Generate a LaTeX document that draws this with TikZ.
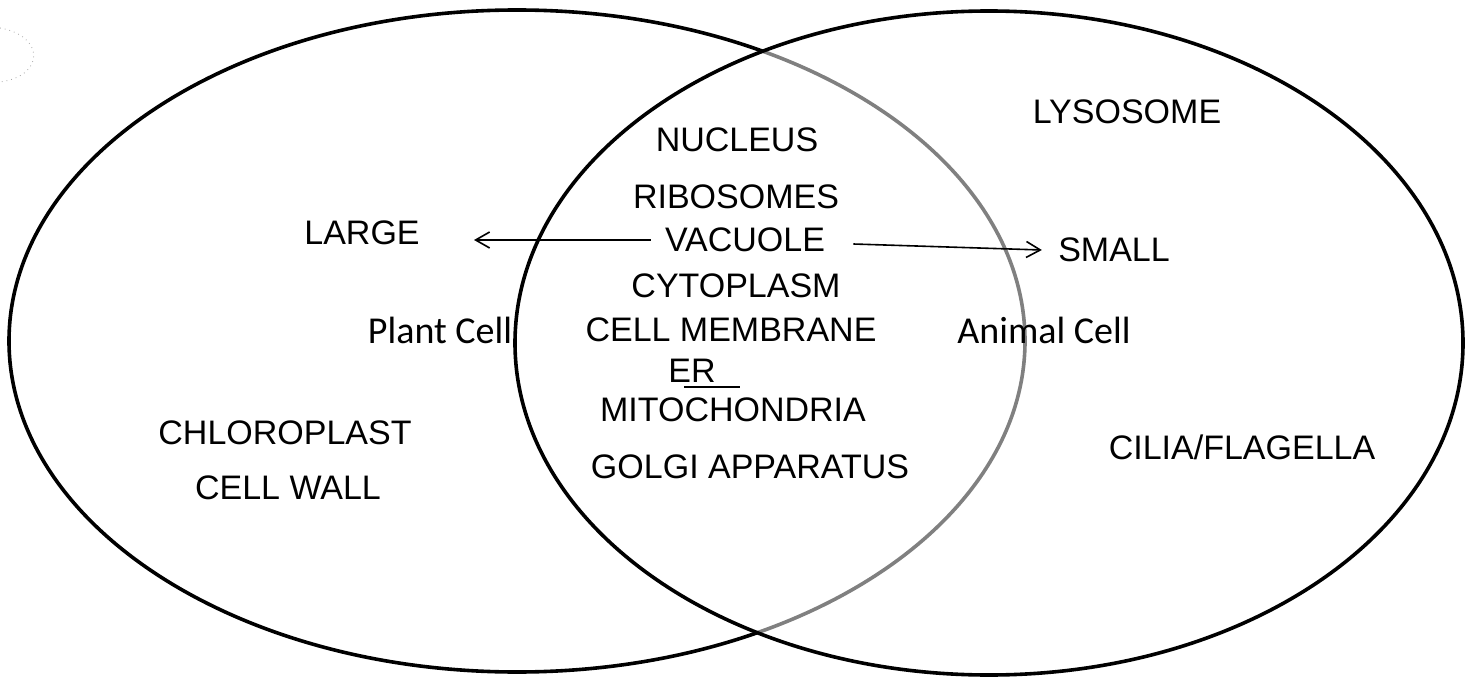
\documentclass[tikz,border=0pt]{standalone}
\usepackage{fontspec}
\newfontfamily\handfont{Liberation Sans}
\newfontfamily\typefont{Carlito}
\usetikzlibrary{arrows.meta,shapes.geometric,positioning}

\begin{document}
\begin{tikzpicture}[x=0.5pt,y=-0.5pt]
\tikzstyle{every node}=[inner sep=0pt]
\tikzstyle{hand}=[font=\handfont\fontsize{17}{20}\selectfont]
\tikzstyle{typed}=[font=\typefont\fontsize{19}{22}\selectfont]
\tikzstyle{cell}=[ellipse, draw, line width=1.8pt]
\tikzstyle{arr}=[-{Straight Barb[length=7pt,width=8pt]}, line width=0.8pt]

\useasboundingbox (0,0) rectangle (1471,679);

% scan mark, top left
\draw[dotted, gray!70, line width=0.4pt] (0,28) .. controls (45,36) and (45,76) .. (0,82);

% the two cells
\node[cell, minimum width=508pt, minimum height=331pt] at (517,341) (plant) {};
\node[cell, fill=white, fill opacity=0.5,
minimum width=474pt, minimum height=332pt] at (989,343) (animal) {};

\node[typed] at (440,330) (plantlbl) {Plant Cell};
\node[typed] at (1044,330) (animallbl) {Animal Cell};

% shared parts
\node[hand] at (737,140) (nucleus) {NUCLEUS};
\node[hand] at (736,197) (ribo) {RIBOSOMES};
\node[hand] at (745,240) (vac) {VACUOLE};
\node[hand] at (736,286) (cyto) {CYTOPLASM};
\node[hand] at (731,330) (membr) {CELL MEMBRANE};
\node[hand] at (692,371) (er) {ER};
\node[hand] at (733,410) (mito) {MITOCHONDRIA};
\node[hand] at (750,467) (golgi) {GOLGI APPARATUS};
\draw[line width=0.8pt] ([xshift=-4pt,yshift=-2pt]er.south) -- ([xshift=12pt,yshift=-2pt]er.south east);

% plant only
\node[hand] at (362,233) (large) {LARGE};
\node[hand] at (285,433) (chloro) {CHLOROPLAST};
\node[hand] at (288,488) (wall) {CELL WALL};

% animal only
\node[hand] at (1127,112) (lyso) {LYSOSOME};
\node[hand] at (1114,250) (small) {SMALL};
\node[hand] at (1242,447) (cilia) {CILIA/FLAGELLA};

\draw[arr] ([xshift=-7pt]vac.west) -- ([xshift=27pt]large.east |- vac.west);
\draw[arr] ([xshift=14pt,yshift=-2pt]vac.east) -- ([xshift=-8pt]small.west);

\end{tikzpicture}
\end{document}
